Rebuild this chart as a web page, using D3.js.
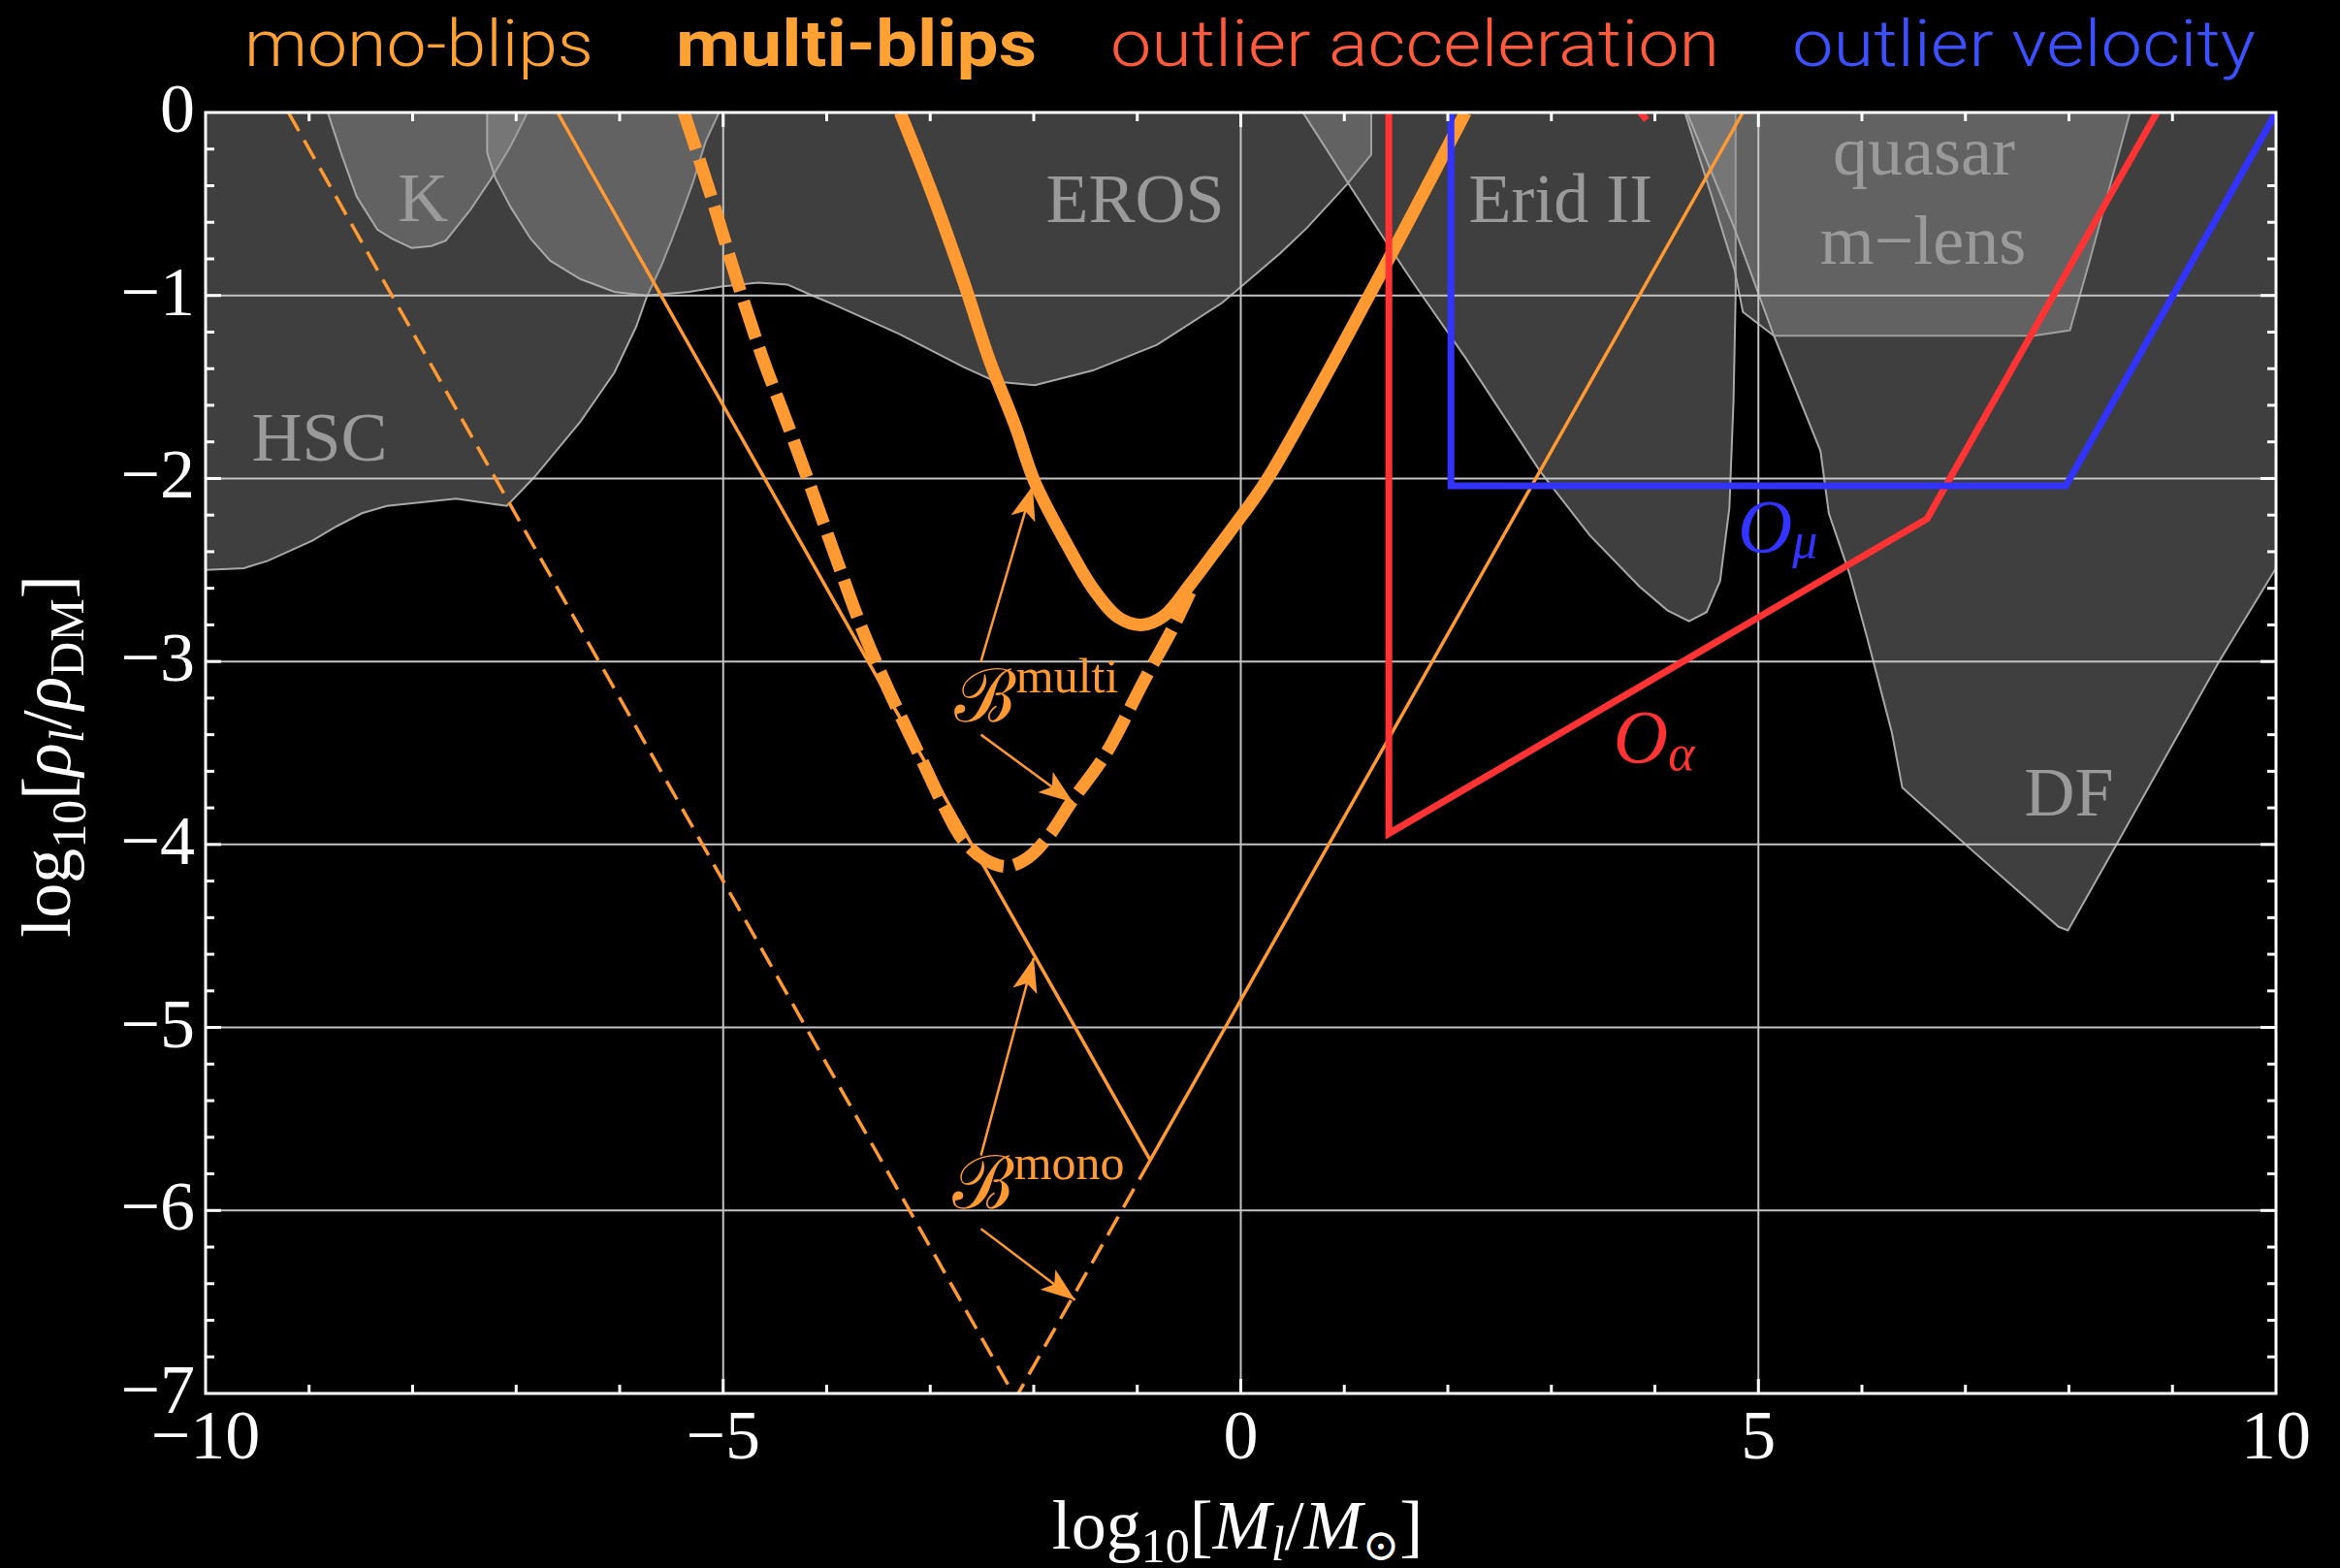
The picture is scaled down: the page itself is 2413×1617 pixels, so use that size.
<!DOCTYPE html>
<html>
<head>
<meta charset="utf-8">
<script src="https://cdn.jsdelivr.net/npm/d3@7"></script>
<style>
body { margin: 0; background: #000; }
svg { display: block; }
</style>
</head>
<body>
<script>
// axis values
const xTickLabels = [-10, -5, 0, 5, 10];
const yTickLabels = [0, -1, -2, -3, -4, -5, -6, -7];
const xGridValues = [-5, 0, 5];
const yGridValues = [-1, -2, -3, -4, -5, -6];

// excluded regions, [log10 M, log10 rho]
const hscRegion = [[-10, 0], [-10, -2.50], [-9.63, -2.49], [-9.40, -2.45], [-8.97, -2.34], [-8.73, -2.26],
    [-8.49, -2.19], [-8.25, -2.15], [-7.58, -2.11], [-7.09, -2.15], [-6.82, -1.99], [-6.38, -1.69],
    [-6.05, -1.42], [-5.84, -1.17], [-5.74, -1.01], [-5.60, -0.84], [-5.50, -0.70], [-5.38, -0.52],
    [-5.29, -0.38], [-5.17, -0.16], [-5.04, 0]];
const kRegion = [[-8.82, 0], [-8.68, -0.24], [-8.54, -0.46], [-8.34, -0.64], [-8.20, -0.69], [-8.01, -0.74],
    [-7.82, -0.73], [-7.68, -0.70], [-7.44, -0.53], [-7.25, -0.37], [-7.05, -0.18], [-6.89, 0]];
const erosRegion = [[-7.28, 0], [-7.28, -0.22], [-7.20, -0.36], [-7.05, -0.52], [-6.86, -0.69], [-6.67, -0.81],
    [-6.38, -0.91], [-6.05, -0.98], [-5.74, -1.0], [-5.33, -0.98], [-5.0, -0.95], [-4.66, -0.93],
    [-4.38, -0.94], [-4.14, -1.0], [-3.93, -1.05], [-3.30, -1.21], [-2.68, -1.39], [-2.37, -1.47],
    [-1.99, -1.49], [-1.43, -1.41], [-0.81, -1.27], [-0.18, -1.04], [0.38, -0.77], [0.64, -0.63],
    [1.03, -0.39], [1.26, -0.23], [1.26, 0]];
const eridRegion = [[0.60, 0], [1.03, -0.38], [1.43, -0.73], [1.69, -0.95], [2.17, -1.34], [2.89, -1.96],
    [3.37, -2.31], [3.85, -2.59], [4.12, -2.72], [4.33, -2.78], [4.50, -2.73], [4.63, -2.56],
    [4.72, -2.16], [4.76, -1.57], [4.78, -1.0], [4.78, 0]];
const quasarRegion = [[4.29, 0], [4.55, -0.46], [4.77, -0.86], [4.85, -1.09], [5.15, -1.22], [7.66, -1.22],
    [8.01, -1.19], [8.20, -0.81], [8.59, 0]];
const dfRegion = [[4.31, 0], [4.76, -0.62], [5.15, -1.22], [5.60, -1.85], [5.68, -2.19], [5.88, -2.52],
    [6.05, -2.87], [6.29, -3.39], [6.39, -3.69], [7.0, -4.0], [7.90, -4.45], [7.99, -4.47],
    [8.46, -4.0], [9.45, -3.0], [10, -2.49], [10, 0]];

// blip sensitivity curves
const monoSolid = [[-6.6, 0], [-0.875, -5.725], [4.85, 0]];
const monoDashed = [[-9.2, 0], [-2.175, -7.025], [-0.875, -5.725]];
const multiSolid = [[-3.29, 0], [-2.99, -0.43], [-2.68, -0.92], [-2.43, -1.35], [-2.18, -1.71], [-1.99, -2.02],
    [-1.68, -2.36], [-1.43, -2.60], [-1.18, -2.76], [-0.96, -2.80], [-0.74, -2.75], [-0.49, -2.58],
    [-0.25, -2.40], [0, -2.21], [0.26, -2.0], [1.24, -1.0], [2.17, 0]];
const multiDashed = [[-5.38, 0], [-5.12, -0.45], [-4.86, -0.93], [-4.62, -1.34], [-4.38, -1.70], [-4.14, -2.07],
    [-3.90, -2.45], [-3.66, -2.82], [-3.40, -3.16], [-3.08, -3.54], [-2.86, -3.80], [-2.69, -3.97],
    [-2.48, -4.08], [-2.26, -4.12], [-2.05, -4.07], [-1.85, -3.95], [-1.64, -3.77], [-1.31, -3.51],
    [-0.93, -3.10], [-0.65, -2.81], [-0.49, -2.62]];
const outlierAccel = [[1.43, 0], [1.43, -3.94], [6.63, -2.22], [8.85, 0]];
const outlierAccelBlip = [[3.86, 0], [3.92, -0.04]];
const outlierVel = [[2.03, 0], [2.03, -2.04], [7.97, -2.04], [10, 0]];

// annotation arrows [tail, tip]
const arrows = [[[-2.51, -3.0], [-2.01, -2.04]], [[-2.51, -3.40], [-1.62, -3.77]],
    [[-2.51, -5.70], [-2.0, -4.62]], [[-2.51, -6.10], [-1.6, -6.49]]];

const regionLabels = [
    {text: "K", x: -7.90, y: -0.594},
    {text: "HSC", x: -8.90, y: -1.902},
    {text: "EROS", x: -1.02, y: -0.601},
    {text: "Erid II", x: 3.09, y: -0.601},
    {text: "quasar", x: 6.60, y: -0.341},
    {text: "m\u2212lens", x: 6.59, y: -0.827},
    {text: "DF", x: 8.0, y: -3.84}
];

const W = 2413, H = 1617;
const margin = {left: 212, right: 66, top: 116, bottom: 180};

const x = d3.scaleLinear().domain([-10, 10]).range([margin.left, W - margin.right]);
const y = d3.scaleLinear().domain([-7, 0]).range([H - margin.bottom, margin.top]);

const ORANGE = "#ff9a33", RED = "#ff3333", BLUE = "#3333ff";

let svg = d3.select("body").append("svg").attr("width", W).attr("height", H)
    .style("background", "#000");

let defs = svg.append("defs");
defs.append("clipPath").attr("id", "plot").append("rect")
    .attr("x", x(-10)).attr("y", y(0)).attr("width", x(10) - x(-10)).attr("height", y(-7) - y(0));

defs.append("marker").attr("id", "head").attr("markerUnits", "userSpaceOnUse")
    .attr("markerWidth", 40).attr("markerHeight", 40).attr("refX", 0).attr("refY", 0)
    .attr("viewBox", "-32 -16 34 32").attr("orient", "auto")
    .append("path").attr("d", "M0,0 L-30,-11 L-23,0 L-30,11 Z").attr("fill", ORANGE);

let line = d3.line().x(d => x(d[0])).y(d => y(d[1]));
let smooth = d3.line().x(d => x(d[0])).y(d => y(d[1])).curve(d3.curveCatmullRom.alpha(0.5));
let area = d3.line().x(d => x(d[0])).y(d => y(d[1])).curve(d3.curveLinearClosed);

let plot = svg.append("g").attr("clip-path", "url(#plot)");

// shaded constraints
[hscRegion, kRegion, erosRegion, eridRegion, quasarRegion, dfRegion].forEach(function(r) {
    plot.append("path").attr("d", area(r))
        .attr("fill", "rgb(147,147,147)").attr("fill-opacity", 0.43)
        .attr("stroke", "#a8a8a8").attr("stroke-width", 2);
});

plot.selectAll(".rlabel").data(regionLabels).enter().append("text")
    .attr("class", "rlabel").attr("x", d => x(d.x)).attr("y", d => y(d.y))
    .attr("text-anchor", "middle").attr("fill", "#9a9a9a")
    .style("font-family", "'Liberation Serif', serif").style("font-size", "72px")
    .text(d => d.text);

// grid
plot.selectAll(".vgrid").data(xGridValues).enter().append("line")
    .attr("x1", d => x(d)).attr("x2", d => x(d)).attr("y1", y(0)).attr("y2", y(-7))
    .attr("stroke", "#c4c4c4").attr("stroke-width", 2);
plot.selectAll(".hgrid").data(yGridValues).enter().append("line")
    .attr("y1", d => y(d)).attr("y2", d => y(d)).attr("x1", x(-10)).attr("x2", x(10))
    .attr("stroke", "#c4c4c4").attr("stroke-width", 2);

// curves
function curve(path, color, width, dash) {
    let p = plot.append("path").attr("d", path).attr("fill", "none")
        .attr("stroke", color).attr("stroke-width", width).attr("stroke-linejoin", "round");
    if (dash) {
        p.attr("stroke-dasharray", dash);
    }
    return p;
}

curve(line(monoDashed), ORANGE, 3.5, "22,11");
curve(line(monoSolid), ORANGE, 3.5);
curve(smooth(multiDashed), ORANGE, 13, "40,11");
curve(smooth(multiSolid), ORANGE, 13);
curve(line(outlierAccel), RED, 7).attr("stroke-linejoin", "miter");
curve(line(outlierAccelBlip), RED, 7);
curve(line(outlierVel), BLUE, 7).attr("stroke-linejoin", "miter");

// arrows
svg.selectAll(".arrow").data(arrows).enter().append("line")
    .attr("x1", d => x(d[0][0])).attr("y1", d => y(d[0][1]))
    .attr("x2", d => x(d[1][0])).attr("y2", d => y(d[1][1]))
    .attr("stroke", ORANGE).attr("stroke-width", 2.5).attr("marker-end", "url(#head)");

// curve labels
function scriptLabel(big, sup, px, py, color) {
    let t = svg.append("text").attr("x", x(px)).attr("y", y(py)).attr("fill", color)
        .style("font-family", "'Liberation Serif', serif");
    t.append("tspan").style("font-family", "'DejaVu Serif', serif").style("font-size", "76px").text(big);
    t.append("tspan").style("font-size", "50px").attr("dy", -30).text(sup);
}

scriptLabel("\u212C", "multi", -2.77, -3.33, ORANGE);
scriptLabel("\u212C", "mono", -2.79, -5.99, ORANGE);

function subLabel(big, sub, px, py, color, shift) {
    let t = svg.append("text").attr("x", x(px)).attr("y", y(py)).attr("fill", color)
        .style("font-family", "'Liberation Serif', serif").style("font-style", "italic");
    t.append("tspan").style("font-size", "78px").text(big);
    t.append("tspan").style("font-size", "52px").attr("dy", shift).text(sub);
}

subLabel("O", "\u03bc", 4.80, -2.40, BLUE, 6);
subLabel("O", "\u03b1", 3.60, -3.55, RED, 8);

// frame and ticks
let axes = svg.append("g").attr("stroke", "#fff").attr("stroke-width", 3);

d3.range(-9, 10, 1).forEach(function(v) {
    let len = v % 5 === 0 ? 15 : 9;
    axes.append("line").attr("x1", x(v)).attr("x2", x(v)).attr("y1", y(-7)).attr("y2", y(-7) - len);
    axes.append("line").attr("x1", x(v)).attr("x2", x(v)).attr("y1", y(0)).attr("y2", y(0) + len);
});

d3.range(1, 35, 1).forEach(function(i) {
    let v = -i / 5;
    let len = i % 5 === 0 ? 16 : 9;
    axes.append("line").attr("y1", y(v)).attr("y2", y(v)).attr("x1", x(-10)).attr("x2", x(-10) + len);
    axes.append("line").attr("y1", y(v)).attr("y2", y(v)).attr("x1", x(10)).attr("x2", x(10) - len);
});

axes.append("rect").attr("x", x(-10)).attr("y", y(0))
    .attr("width", x(10) - x(-10)).attr("height", y(-7) - y(0)).attr("fill", "none");

function fmt(v) {
    return v < 0 ? "\u2212" + Math.abs(v) : String(v);
}

svg.selectAll(".xlab").data(xTickLabels).enter().append("text")
    .attr("x", d => x(d)).attr("y", y(-7) + 67).attr("text-anchor", "middle").attr("fill", "#fff")
    .style("font-family", "'Liberation Serif', serif").style("font-size", "72px").text(fmt);

svg.selectAll(".ylab").data(yTickLabels).enter().append("text")
    .attr("x", x(-10) - 11).attr("y", d => y(d) + 20).attr("text-anchor", "end").attr("fill", "#fff")
    .style("font-family", "'Liberation Serif', serif").style("font-size", "72px").text(fmt);

// axis titles
let xt = svg.append("text").attr("x", 1276).attr("y", 1597).attr("text-anchor", "middle")
    .attr("fill", "#fff").style("font-family", "'Liberation Serif', serif").style("font-size", "72px");
xt.append("tspan").text("log");
xt.append("tspan").attr("dy", 14).style("font-size", "50px").text("10");
xt.append("tspan").attr("dy", -14).text("[");
xt.append("tspan").style("font-style", "italic").text("M");
xt.append("tspan").attr("dy", 12).style("font-size", "50px").style("font-style", "italic").text("l");
xt.append("tspan").attr("dy", -12).text("/");
xt.append("tspan").style("font-style", "italic").text("M");
xt.append("tspan").attr("dy", 12).style("font-size", "46px").style("font-family", "'DejaVu Serif', serif").text("\u2299");
xt.append("tspan").attr("dy", -12).text("]");

let yt = svg.append("text").attr("transform", "translate(72,780) rotate(-90)").attr("text-anchor", "middle")
    .attr("fill", "#fff").style("font-family", "'Liberation Serif', serif").style("font-size", "72px");
yt.append("tspan").text("log");
yt.append("tspan").attr("dy", 16).style("font-size", "50px").text("10");
yt.append("tspan").attr("dy", -16).text("[");
yt.append("tspan").style("font-style", "italic").text("\u03c1");
yt.append("tspan").attr("dy", 14).style("font-size", "50px").style("font-style", "italic").text("l");
yt.append("tspan").attr("dy", -14).text("/");
yt.append("tspan").style("font-style", "italic").text("\u03c1");
yt.append("tspan").attr("dy", 14).style("font-size", "50px").text("DM");
yt.append("tspan").attr("dy", -14).text("]");

// legend titles across the top
const titles = [
    {text: "mono-blips", x: 252, len: 360, color: "#ffa133", weight: 300},
    {text: "multi-blips", x: 697, len: 372, color: "#ffa133", weight: 700},
    {text: "outlier acceleration", x: 1145, len: 628, color: "#ff5a3c", weight: 300},
    {text: "outlier velocity", x: 1848, len: 478, color: "#3c50ff", weight: 300}
];

svg.selectAll(".title").data(titles).enter().append("text")
    .attr("x", d => d.x).attr("y", 68).attr("fill", d => d.color)
    .attr("textLength", d => d.len).attr("lengthAdjust", "spacingAndGlyphs")
    .style("font-family", "Roboto, 'Liberation Sans', sans-serif").style("font-size", "66px")
    .style("font-weight", d => d.weight).text(d => d.text);
</script>
</body>
</html>
